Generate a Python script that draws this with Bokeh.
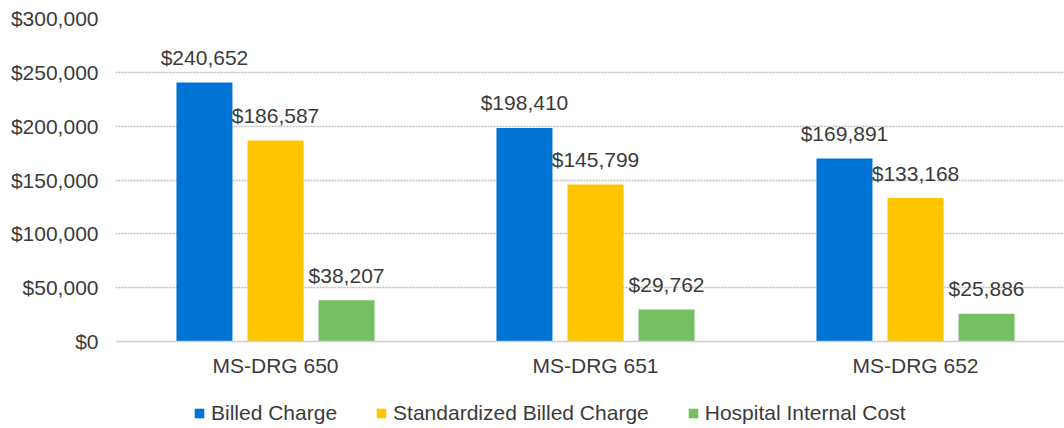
from bokeh.plotting import figure
from bokeh.layouts import column
from bokeh.models import (Range1d, FixedTicker, NumeralTickFormatter, Legend,
                          LegendItem, ColumnDataSource)
from bokeh.embed import file_html
from bokeh.resources import INLINE
from bokeh.core.properties import value

categories = ["MS-DRG 650", "MS-DRG 651", "MS-DRG 652"]
series_names = ["Billed Charge", "Standardized Billed Charge", "Hospital Internal Cost"]
billed_charge = [240652, 198410, 169891]
standardized_billed_charge = [186587, 145799, 133168]
hospital_internal_cost = [38207, 29762, 25886]
y_ticks = [0, 50000, 100000, 150000, 200000, 250000, 300000]

colors = ["#0074D4", "#FFC600", "#75C063"]
FONT = "Liberation Sans"
TEXT = "#3b3b3b"
FS = "21px"

series = [billed_charge, standardized_billed_charge, hospital_internal_cost]
offsets = [-0.222, 0.0, 0.222]
bar_w = 0.175

W = 1064
p = figure(width=W, height=390, output_backend="svg", toolbar_location=None,
           x_range=Range1d(0, (W - 115) / 320), y_range=Range1d(0, 300000),
           min_border_left=115, min_border_right=0, min_border_top=18,
           min_border_bottom=49)
p.outline_line_color = None
p.background_fill_color = "white"
p.border_fill_color = "white"

# legend strip below the chart (its bars lie far outside its visible ranges,
# only their legend swatches are shown)
lg = figure(width=W, height=38, output_backend="svg", toolbar_location=None,
            x_range=Range1d(1000, 1001), y_range=Range1d(1e9, 2e9),
            x_axis_type=None, y_axis_type=None, min_border=0,
            min_border_left=115, min_border_right=0)
lg.outline_line_color = None
lg.xgrid.visible = False
lg.ygrid.visible = False
lg.border_fill_color = "white"
lg.background_fill_color = "white"

items = []
for name, vals, off, col in zip(series_names, series, offsets, colors):
    xs = [i + 0.5 + off for i in range(len(categories))]
    src = ColumnDataSource(dict(x=xs, top=vals, label=[f"${v:,}" for v in vals]))
    p.vbar(x="x", top="top", width=bar_w, source=src, fill_color=col,
           line_color=None)
    p.text(x="x", y="top", text="label", source=src, y_offset=-25,
           text_align="center", text_baseline="alphabetic",
           text_font=value(FONT), text_font_size=FS, text_color=TEXT)
    r = lg.vbar(x="x", top="top", width=bar_w, source=src, fill_color=col,
                line_color=None)
    items.append(LegendItem(label=name, renderers=[r], index=0))

# axes
p.xaxis.ticker = FixedTicker(ticks=[i + 0.5 for i in range(len(categories))])
p.xaxis.major_label_overrides = {i + 0.5: c for i, c in enumerate(categories)}
p.xaxis.major_tick_line_color = None
p.xaxis.major_tick_out = 0
p.xaxis.major_tick_in = 0
p.xaxis.minor_tick_line_color = None
p.xaxis.axis_line_color = "#d0d0d0"
p.xaxis.axis_line_width = 1.5
p.xaxis.major_label_standoff = 12
p.xaxis.major_label_text_font = FONT
p.xaxis.major_label_text_font_size = FS
p.xaxis.major_label_text_color = TEXT

p.yaxis.ticker = FixedTicker(ticks=y_ticks)
p.yaxis.formatter = NumeralTickFormatter(format="$0,0")
p.yaxis.axis_line_color = None
p.yaxis.major_tick_line_color = None
p.yaxis.major_tick_out = 0
p.yaxis.major_tick_in = 0
p.yaxis.minor_tick_line_color = None
p.yaxis.major_label_standoff = 17
p.yaxis.major_label_text_font = FONT
p.yaxis.major_label_text_font_size = FS
p.yaxis.major_label_text_color = TEXT

p.xgrid.grid_line_color = None
p.ygrid.ticker = FixedTicker(ticks=y_ticks)
p.ygrid.grid_line_color = "#bfbfbf"
p.ygrid.grid_line_width = 1.5
p.ygrid.grid_line_dash = "2 1"

legend = Legend(items=items, orientation="horizontal", location=(78, 3),
                glyph_width=12, glyph_height=12, label_standoff=6, spacing=38,
                padding=0, margin=0, border_line_color=None,
                background_fill_alpha=0,
                label_text_font=FONT, label_text_font_size=FS,
                label_text_color=TEXT)
lg.add_layout(legend, "center")

layout = column(p, lg, spacing=0)
open("out.html", "w").write(file_html(layout, INLINE))
